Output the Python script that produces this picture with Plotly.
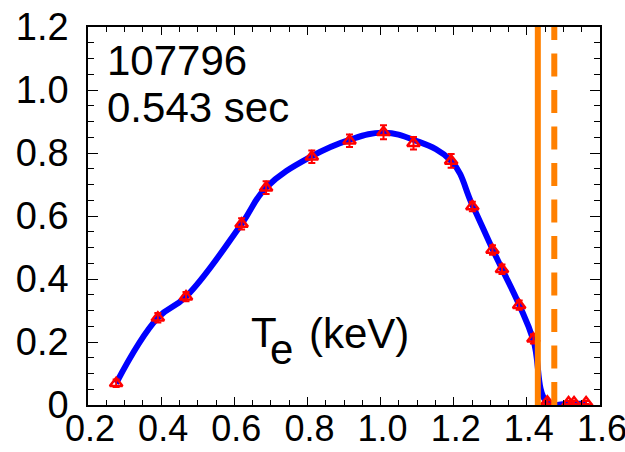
import plotly.graph_objects as go

# ---- data ----
radius = [0.277, 0.391, 0.468, 0.620, 0.687, 0.812, 0.915, 1.008, 1.090, 1.193,
          1.251, 1.306, 1.332, 1.379, 1.418, 1.456, 1.514, 1.529, 1.562]
te_kev = [0.069, 0.277, 0.344, 0.575, 0.690, 0.788, 0.839, 0.866, 0.831, 0.775,
          0.630, 0.492, 0.431, 0.317, 0.210, 0.010, 0.008, 0.008, 0.008]
te_err = [0.012, 0.015, 0.015, 0.018, 0.020, 0.020, 0.020, 0.022, 0.020, 0.022,
          0.015, 0.015, 0.015, 0.015, 0.015, 0.005, 0.005, 0.005, 0.005]

# fitted profile (blue curve)
fit_r = [0.277, 0.391, 0.468, 0.620, 0.687, 0.812, 0.915, 1.008, 1.090, 1.193,
         1.251, 1.306, 1.332, 1.379, 1.418, 1.456, 1.514, 1.562]
fit_te = [0.069, 0.277, 0.344, 0.575, 0.690, 0.790, 0.842, 0.864, 0.842, 0.775,
          0.635, 0.495, 0.432, 0.318, 0.205, 0.008, 0.004, 0.004]

sep_solid = 1.430
sep_dashed = 1.475

x_ticks = [0.2, 0.4, 0.6, 0.8, 1.0, 1.2, 1.4, 1.6]
x_ticktext = ["0.2", "0.4", "0.6", "0.8", "1.0", "1.2", "1.4", "1.6"]
y_ticks = [0, 0.2, 0.4, 0.6, 0.8, 1.0, 1.2]
y_ticktext = ["0", "0.2", "0.4", "0.6", "0.8", "1.0", "1.2"]

shot_label = "107796"
time_label = "0.543 sec"

FONT = "Liberation Sans, Arial, sans-serif"
ORANGE = "rgb(255,128,0)"

fig = go.Figure()

fig.add_trace(go.Scatter(
    x=fit_r, y=fit_te, mode="lines",
    line=dict(color="rgb(0,0,255)", width=6, shape="spline", smoothing=1.2),
    hoverinfo="skip", showlegend=False))

fig.add_trace(go.Scatter(
    x=radius, y=te_kev, mode="markers",
    marker=dict(symbol="triangle-up-open", size=11, color="rgb(255,0,0)",
                line=dict(color="rgb(255,0,0)", width=2.5)),
    error_y=dict(type="data", array=te_err, color="rgb(255,0,0)",
                 thickness=2, width=3.5),
    showlegend=False))

fig.add_shape(type="line", xref="x", yref="paper", x0=sep_solid, x1=sep_solid,
              y0=0, y1=1, line=dict(color=ORANGE, width=6))
fig.add_shape(type="line", xref="x", yref="paper", x0=sep_dashed, x1=sep_dashed,
              y0=0, y1=1, line=dict(color=ORANGE, width=6, dash="23px,13.5px"))

axis_common = dict(
    showgrid=False, zeroline=False, showline=True, linecolor="black",
    linewidth=1.5, mirror="allticks", ticks="inside", tickcolor="black",
    tickwidth=1.2, automargin=False,
)

fig.update_xaxes(range=[0.2, 1.6], tickvals=x_ticks, ticktext=x_ticktext,
                 ticklen=8, ticklabelstandoff=-9, ticklabelshift=2,
                 ticklabeloverflow="allow",
                 tickfont=dict(family=FONT, size=36, color="black"),
                 minor=dict(dtick=0.05, ticklen=5, ticks="inside",
                            tickcolor="black", tickwidth=1),
                 **axis_common)
fig.update_yaxes(range=[0, 1.2], tickvals=y_ticks, ticktext=y_ticktext,
                 ticklen=10, ticklabelstandoff=10,
                 ticklabeloverflow="allow",
                 tickfont=dict(family=FONT, size=38, color="black"),
                 minor=dict(dtick=0.05, ticklen=6, ticks="inside",
                            tickcolor="black", tickwidth=1),
                 **axis_common)

# layout in pixels: plot area 88..600 x 27..405
W, H = 625, 452
L, R, T, B = 88, 25, 27, 47
pw, ph = W - L - R, H - T - B


def px(xp):
    return (xp - L) / pw


def py(yp):
    return (H - B - yp) / ph


ann_font = dict(family=FONT, size=42, color="black")
ann = [
    dict(text=shot_label, x=px(106), y=py(60), xanchor="left", yanchor="middle"),
    dict(text=time_label, x=px(106), y=py(107), xanchor="left", yanchor="middle"),
    dict(text="T", x=px(250), y=py(332), xanchor="left", yanchor="middle"),
    dict(text="e", x=px(269), y=py(349), xanchor="left", yanchor="middle"),
    dict(text="(keV)", x=px(308), y=py(333), xanchor="left", yanchor="middle"),
]
for a in ann:
    fig.add_annotation(xref="paper", yref="paper", showarrow=False,
                       font=ann_font, borderpad=0, **a)

fig.update_layout(
    width=W, height=H,
    margin=dict(l=L, r=R, t=T, b=B, pad=0),
    paper_bgcolor="white", plot_bgcolor="white",
    font=dict(family=FONT, color="black"),
)

fig.write_html("out.html")
